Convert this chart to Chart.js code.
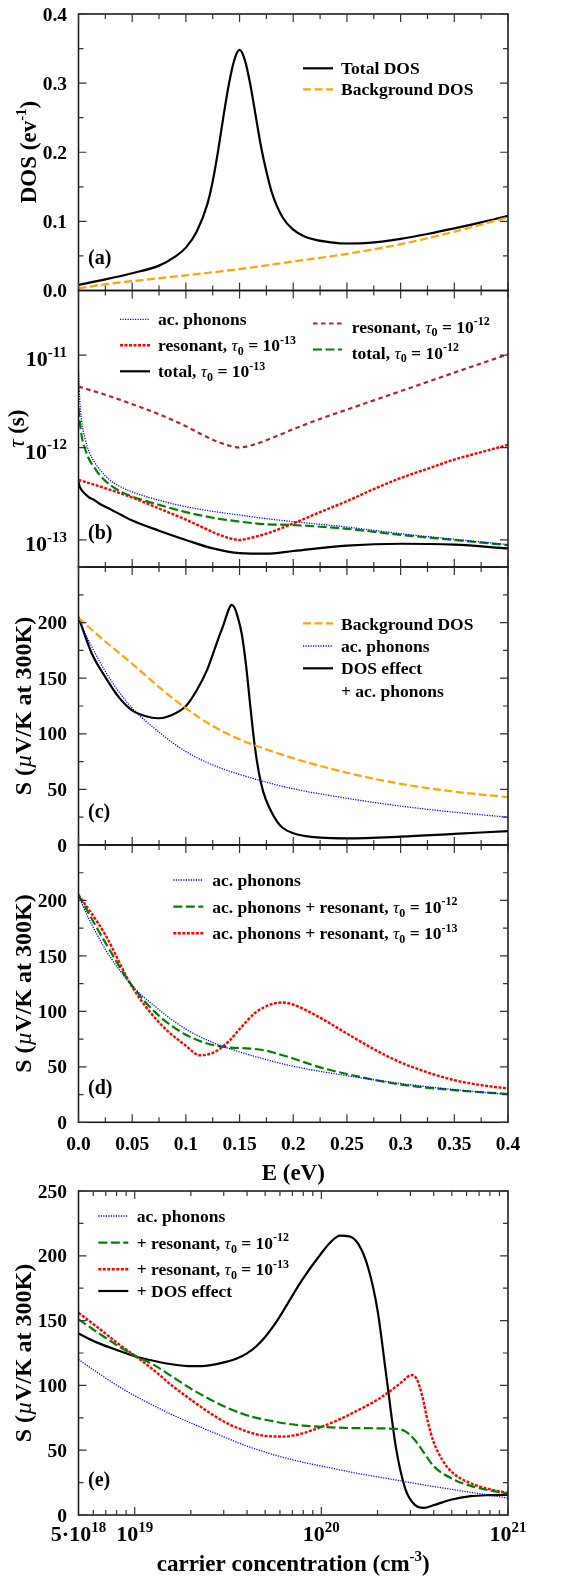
<!DOCTYPE html>
<html><head><meta charset="utf-8">
<script src="https://cdn.jsdelivr.net/npm/chart.js@4.4.1/dist/chart.umd.min.js"></script>
<style>
html,body{margin:0;padding:0;background:#fff;}
#wrap{position:relative;width:562px;height:1580px;}
canvas{position:absolute;left:0;top:0;}
</style></head><body><div id="wrap">
<canvas id="pa" width="562" height="1580"></canvas>
<canvas id="pb" width="562" height="1580"></canvas>
<canvas id="pc" width="562" height="1580"></canvas>
<canvas id="pd" width="562" height="1580"></canvas>
<canvas id="pe" width="562" height="1580"></canvas>
</div>
<script>
// ---------------- DATA ----------------
// (a) density of states vs E (eV)
const aTotalE = [0, 0.025, 0.05, 0.075, 0.09, 0.1, 0.11, 0.12, 0.125, 0.13, 0.135, 0.14, 0.145, 0.15, 0.155, 0.16, 0.165, 0.17, 0.175, 0.18, 0.19, 0.2, 0.21, 0.22, 0.235, 0.25, 0.27, 0.3, 0.325, 0.35, 0.375, 0.4];
const aTotalDOS = [0.008, 0.016, 0.025, 0.036, 0.049, 0.062, 0.085, 0.125, 0.158, 0.202, 0.252, 0.298, 0.333, 0.348, 0.333, 0.298, 0.253, 0.208, 0.172, 0.142, 0.106, 0.088, 0.0785, 0.0735, 0.0697, 0.068, 0.0688, 0.0748, 0.0818, 0.0898, 0.0985, 0.108];
const aBgE = [0, 0.025, 0.05, 0.1, 0.15, 0.2, 0.25, 0.3, 0.35, 0.4];
const aBgDOS = [0.003, 0.009, 0.0135, 0.022, 0.031, 0.042, 0.053, 0.067, 0.085, 0.106];

// (b) relaxation times (s)
const bE = [0, 0.001, 0.003, 0.006, 0.01, 0.015, 0.02, 0.03, 0.04, 0.05, 0.075, 0.1, 0.125, 0.15, 0.175, 0.2, 0.25, 0.3, 0.35, 0.4];
const bAcPhonons = [6.76e-12, 3.55e-12, 1.91e-12, 1.26e-12, 8.91e-13, 6.92e-13, 5.75e-13, 4.37e-13, 3.72e-13, 3.31e-13, 2.69e-13, 2.29e-13, 2.04e-13, 1.86e-13, 1.70e-13, 1.58e-13, 1.38e-13, 1.17e-13, 1.02e-13, 8.9e-14];
const bTotal12 = [2.69e-12, 2.0e-12, 1.32e-12, 9.77e-13, 7.41e-13, 6.03e-13, 5.01e-13, 3.89e-13, 3.31e-13, 2.95e-13, 2.40e-13, 2.0e-13, 1.74e-13, 1.58e-13, 1.48e-13, 1.45e-13, 1.32e-13, 1.135e-13, 1.0e-13, 8.8e-14];
const bTotal13 = [4.27e-13, 3.80e-13, 3.47e-13, 3.16e-13, 2.88e-13, 2.69e-13, 2.45e-13, 2.14e-13, 1.86e-13, 1.62e-13, 1.26e-13, 1.0e-13, 8.1e-14, 7.2e-14, 7.1e-14, 7.6e-14, 8.7e-14, 9.1e-14, 8.9e-14, 8.1e-14];
const bResE = [0, 0.025, 0.05, 0.075, 0.1, 0.115, 0.13, 0.14, 0.15, 0.16, 0.175, 0.2, 0.225, 0.25, 0.275, 0.3, 0.325, 0.35, 0.375, 0.4];
const bRes12 = [4.57e-12, 3.72e-12, 2.95e-12, 2.29e-12, 1.70e-12, 1.38e-12, 1.15e-12, 1.05e-12, 1.0e-12, 1.05e-12, 1.20e-12, 1.58e-12, 2.04e-12, 2.57e-12, 3.24e-12, 4.07e-12, 5.13e-12, 6.46e-12, 8.13e-12, 1.02e-11];
const bRes13 = [4.47e-13, 3.63e-13, 2.88e-13, 2.19e-13, 1.66e-13, 1.38e-13, 1.15e-13, 1.05e-13, 1.0e-13, 1.05e-13, 1.17e-13, 1.51e-13, 2.0e-13, 2.63e-13, 3.55e-13, 4.68e-13, 5.89e-13, 7.41e-13, 8.91e-13, 1.07e-12];

// (c),(d) Seebeck coefficient vs E (uV/K)
const acE = [0, 0.005, 0.0125, 0.025, 0.0375, 0.05, 0.075, 0.1, 0.125, 0.15, 0.175, 0.2, 0.25, 0.3, 0.35, 0.4];
const acS = [205, 193, 178, 156, 138, 123, 101.5, 84, 72, 63.5, 56.5, 50.5, 42, 35, 29.5, 25];
const cBgE = [0, 0.025, 0.05, 0.075, 0.1, 0.125, 0.15, 0.175, 0.2, 0.25, 0.3, 0.35, 0.4];
const cBgS = [204, 183, 163, 142, 123, 107, 95, 86, 78, 65, 55, 48, 43];
const cDosE = [0, 0.0125, 0.025, 0.0375, 0.05, 0.062, 0.074, 0.086, 0.1, 0.11, 0.12, 0.13, 0.135, 0.14, 0.1425, 0.145, 0.148, 0.152, 0.156, 0.16, 0.164, 0.168, 0.172, 0.178, 0.185, 0.19, 0.2, 0.21, 0.225, 0.25, 0.3, 0.35, 0.4];
const cDosS = [205, 172, 151, 133, 121, 116, 114, 116.5, 125, 139, 158, 185, 198, 212, 216, 214, 206, 190, 162, 125, 90, 65, 48, 33, 21, 15.5, 10.5, 8.2, 6.6, 6, 7.5, 10, 12.5];
const dRes12E = [0, 0.025, 0.05, 0.075, 0.1, 0.12, 0.14, 0.16, 0.175, 0.19, 0.2, 0.225, 0.25, 0.3, 0.35, 0.4];
const dRes12S = [205, 162, 123, 96, 79, 71, 67.5, 66.5, 64.5, 60.5, 57.5, 49.5, 43.5, 34, 29, 25.5];
const dRes13E = [0, 0.025, 0.05, 0.075, 0.1, 0.113, 0.125, 0.14, 0.15, 0.165, 0.18, 0.19, 0.2, 0.22, 0.25, 0.275, 0.3, 0.325, 0.35, 0.375, 0.4];
const dRes13S = [205, 169, 122, 90, 69, 60.5, 62.5, 73, 84, 99, 106.5, 108, 106, 97, 80, 66, 54, 45, 38, 33.5, 30.5];

// (e) Seebeck coefficient vs carrier concentration (cm^-3)
const eAcN = [5e18, 6.31e18, 7.94e18, 1e19, 1.26e19, 1.58e19, 2e19, 2.51e19, 3.16e19, 3.98e19, 5.01e19, 6.31e19, 7.94e19, 1e20, 1.58e20, 2.51e20, 3.98e20, 6.31e20, 1e21];
const eAcS = [120, 110, 100.5, 92, 84.5, 77.5, 71, 65, 59, 53.2, 48.5, 44.3, 40.8, 37.8, 32, 27, 22, 17.5, 13];
const eRes12N = [5e18, 6.31e18, 7.94e18, 1e19, 1.26e19, 1.58e19, 2e19, 2.51e19, 3.16e19, 3.98e19, 5.01e19, 6.31e19, 7.94e19, 1e20, 1.58e20, 2.51e20, 2.82e20, 3.16e20, 3.55e20, 3.98e20, 5.01e20, 6.31e20, 7.94e20, 1e21];
const eRes12S = [151, 141, 131.5, 123, 116, 107, 97.5, 89.5, 82.5, 77, 73.5, 70.8, 69, 68, 67, 66.5, 64.5, 58, 48, 38, 28, 22.5, 19, 16.5];
const eRes13N = [5e18, 6.31e18, 7.94e18, 1e19, 1.26e19, 1.58e19, 2e19, 2.51e19, 3.16e19, 3.98e19, 5.01e19, 6.31e19, 7.94e19, 1e20, 1.26e20, 1.58e20, 2e20, 2.51e20, 2.82e20, 3.02e20, 3.24e20, 3.47e20, 3.72e20, 3.98e20, 4.47e20, 5.01e20, 6.31e20, 7.94e20, 1e21];
const eRes13S = [156, 145, 133.5, 123, 112, 100, 89, 79, 70.5, 64.5, 61, 60.5, 63, 68, 74, 81, 89, 99, 105, 108, 105, 92, 72, 57, 42, 33, 24.5, 20, 17];
const eDosN = [5e18, 6.31e18, 7.94e18, 1e19, 1.26e19, 1.58e19, 2e19, 2.51e19, 3.16e19, 3.55e19, 3.98e19, 4.47e19, 5.01e19, 5.62e19, 6.31e19, 7.94e19, 1e20, 1.12e20, 1.26e20, 1.41e20, 1.58e20, 1.78e20, 2e20, 2.24e20, 2.51e20, 2.82e20, 3.16e20, 3.55e20, 3.98e20, 5.01e20, 6.31e20, 7.94e20, 1e21];
const eDosS = [140, 133, 127.5, 122.5, 119, 116.3, 114.8, 115.5, 118.5, 121, 124.5, 130, 137.5, 147, 158.5, 182, 202, 210.5, 215.5, 215, 209, 191, 158, 105, 52, 20, 8, 5.5, 7.5, 12, 14.5, 15.3, 15.5];

// ticks
const eXMajor = [0, 0.05, 0.1, 0.15, 0.2, 0.25, 0.3, 0.35, 0.4];
const eXMinor = [0.025, 0.075, 0.125, 0.175, 0.225, 0.275, 0.325, 0.375];
const eXLabels = ['0.0', '0.05', '0.1', '0.15', '0.2', '0.25', '0.3', '0.35', '0.4'];
const aYMajor = [0, 0.1, 0.2, 0.3, 0.4];
const aYMinor = [0.05, 0.15, 0.25, 0.35];
const aYLabels = ['0.0', '0.1', '0.2', '0.3', '0.4'];
const bYMajor = [1e-11, 1e-12, 1e-13];
const bYExp = ['-11', '-12', '-13'];
const sYMajor = [0, 50, 100, 150, 200, 250];
const sYMinor = [25, 75, 125, 175, 225];
const cdYLabelVals = [0, 50, 100, 150, 200];
const eYLabelVals = [0, 50, 100, 150, 200, 250];
const nMajor = [1e19, 1e20, 1e21];
const nMinor = [6e18, 7e18, 8e18, 9e18, 2e19, 3e19, 4e19, 5e19, 6e19, 7e19, 8e19, 9e19, 2e20, 3e20, 4e20, 5e20, 6e20, 7e20, 8e20, 9e20];
const nLabelVals = [5e18, 1e19, 1e20, 1e21];
const nLabelBase = ['5\u00b710', '10', '10', '10'];
const nLabelExp = ['18', '19', '20', '21'];

// ---------------- STYLE / HELPERS ----------------
const SERIF = '"Liberation Serif","Times New Roman",serif';
const W = 562, H = 1580, LEFT = 78.5, RPAD = 54;
const TICKC = '#333', MAJ = 8, MINL = 5;
const TK = 19.5, LG = 17.5;
const ST = {
  black: {borderColor: '#000000', borderWidth: 2.2, borderDash: []},
  orange: {borderColor: '#FFA500', borderWidth: 2.2, borderDash: [8, 3.5]},
  blue: {borderColor: '#0000FF', borderWidth: 1.3, borderDash: [1.2, 1.3]},
  red: {borderColor: '#FF0000', borderWidth: 2.4, borderDash: [3, 1.5]},
  brown: {borderColor: '#A52A2A', borderWidth: 2.2, borderDash: [4.5, 3.5]},
  green: {borderColor: '#008000', borderWidth: 2.2, borderDash: [9, 3.5]}
};
function ds(xs, ys, st) {
  return Object.assign({data: xs.map((x, i) => ({x: x, y: ys[i]})), showLine: true, pointRadius: 0,
    cubicInterpolationMode: 'monotone', fill: false}, st);
}
function segM(g, sz) {
  const k = g[1] || 'n'; let s = sz, dy = 0, it = false;
  if (k === 'sup') { s = Math.round(sz * 0.66); dy = -sz * 0.42; }
  else if (k === 'sub') { s = Math.round(sz * 0.66); dy = sz * 0.22; }
  else if (k === 'i') { it = true; }
  return {dy: dy, f: (it ? 'italic ' : 'bold ') + s + 'px ' + SERIF};
}
function richW(ctx, segs, sz) { let w = 0; for (const g of segs) { ctx.font = segM(g, sz).f; w += ctx.measureText(g[0]).width; } return w; }
function rich(ctx, segs, x, y, sz, align) {
  const w = richW(ctx, segs, sz);
  let cx = align === 'right' ? x - w : (align === 'center' ? x - w / 2 : x);
  ctx.textBaseline = 'alphabetic'; ctx.textAlign = 'left'; ctx.fillStyle = '#000';
  for (const g of segs) { const m = segM(g, sz); ctx.font = m.f; ctx.fillText(g[0], cx, y + m.dy); cx += ctx.measureText(g[0]).width; }
}
function richRot(ctx, segs, bx, cy, sz) {
  ctx.save(); ctx.translate(bx, cy); ctx.rotate(-Math.PI / 2); rich(ctx, segs, 0, 0, sz, 'center'); ctx.restore();
}
function frame(c) {
  const ctx = c.ctx, a = c.chartArea; ctx.save(); ctx.setLineDash([]); ctx.strokeStyle = '#111'; ctx.lineWidth = 1.5;
  ctx.strokeRect(a.left, a.top, a.right - a.left, a.bottom - a.top); ctx.restore();
}
function ticksX(c, maj, min) {
  const ctx = c.ctx, a = c.chartArea, sx = c.scales.x; ctx.save(); ctx.setLineDash([]); ctx.strokeStyle = TICKC; ctx.lineWidth = 1.2; ctx.beginPath();
  for (const [vals, len] of [[maj, MAJ], [min, MINL]]) for (const v of vals) {
    const p = sx.getPixelForValue(v); ctx.moveTo(p, a.bottom); ctx.lineTo(p, a.bottom - len); ctx.moveTo(p, a.top); ctx.lineTo(p, a.top + len);
  }
  ctx.stroke(); ctx.restore();
}
function ticksY(c, maj, min) {
  const ctx = c.ctx, a = c.chartArea, sy = c.scales.y; ctx.save(); ctx.setLineDash([]); ctx.strokeStyle = TICKC; ctx.lineWidth = 1.2; ctx.beginPath();
  for (const [vals, len] of [[maj, MAJ], [min, MINL]]) for (const v of vals) {
    const p = sy.getPixelForValue(v); ctx.moveTo(a.left, p); ctx.lineTo(a.left + len, p); ctx.moveTo(a.right, p); ctx.lineTo(a.right - len, p);
  }
  ctx.stroke(); ctx.restore();
}
function yLabels(c, vals, texts, sz) {
  const ctx = c.ctx, sy = c.scales.y;
  vals.forEach((v, i) => rich(ctx, [[texts[i], 'n']], 67, sy.getPixelForValue(v) + sz * 0.34, sz, 'right'));
}
function legend(c, x1, x2, xt, rows, sz) {
  const ctx = c.ctx;
  for (const r of rows) {
    if (r.st) {
      ctx.save(); ctx.strokeStyle = r.st.borderColor; ctx.lineWidth = r.st.borderWidth; ctx.setLineDash(r.st.borderDash);
      ctx.beginPath(); ctx.moveTo(x1, r.ly); ctx.lineTo(x2, r.ly); ctx.stroke(); ctx.restore();
    }
    rich(ctx, r.segs, xt, r.ty, sz, 'left');
  }
}
function tauSegs(pre, exp) { return [[pre, 'n'], ['\u03c4', 'i'], ['0', 'sub'], [' = 10', 'n'], [exp, 'sup']]; }
const S_TITLE = [['S (', 'n'], ['\u00b5', 'i'], ['V/K at 300K)', 'n']];

function makeChart(id, top, bottom, xs, ys, datasets, deco) {
  return new Chart(document.getElementById(id), {
    type: 'scatter', data: {datasets: datasets},
    options: {responsive: false, animation: false, devicePixelRatio: 1, events: [],
      layout: {padding: {left: LEFT, right: RPAD, top: top, bottom: H - bottom}},
      plugins: {legend: {display: false}, tooltip: {enabled: false}},
      scales: {x: Object.assign({display: false}, xs), y: Object.assign({display: false}, ys)}},
    plugins: [{id: 'deco_' + id, afterDraw(c) { deco(c); }}]
  });
}
const EX = {type: 'linear', min: 0, max: 0.4};

// (a)
makeChart('pa', 14, 290.5, EX, {type: 'linear', min: 0, max: 0.4}, [
  ds(aBgE, aBgDOS, ST.orange), ds(aTotalE, aTotalDOS, ST.black)
], c => {
  const ctx = c.ctx; frame(c); ticksX(c, eXMajor, eXMinor); ticksY(c, aYMajor, aYMinor);
  yLabels(c, aYMajor, aYLabels, TK);
  richRot(ctx, [['DOS (ev', 'n'], ['-1', 'sup'], [')', 'n']], 36, 152, 23);
  legend(c, 303, 333, 341, [
    {st: ST.black, ly: 68.3, ty: 74.3, segs: [['Total DOS', 'n']]},
    {st: ST.orange, ly: 89.3, ty: 95.3, segs: [['Background DOS', 'n']]}], LG);
  rich(ctx, [['(a)', 'n']], 88, 264, 20, 'left');
});

// (b)
makeChart('pb', 290.5, 567, EX, {type: 'logarithmic', min: 5.1e-14, max: 5.0e-11}, [
  ds(bResE, bRes12, ST.brown), ds(bE, bAcPhonons, ST.blue), ds(bE, bTotal12, ST.green),
  ds(bResE, bRes13, ST.red), ds(bE, bTotal13, ST.black)
], c => {
  const ctx = c.ctx, sy = c.scales.y; frame(c); ticksX(c, eXMajor, eXMinor); ticksY(c, bYMajor, []);
  bYMajor.forEach((v, i) => rich(ctx, [['10', 'n'], [bYExp[i], 'sup']], 67, sy.getPixelForValue(v) + 11, 22, 'right'));
  richRot(ctx, [['\u03c4', 'i'], [' (s)', 'n']], 24, 428.7, 23);
  legend(c, 120, 150, 158, [
    {st: ST.blue, ly: 319.3, ty: 325.3, segs: [['ac. phonons', 'n']]},
    {st: ST.red, ly: 345.3, ty: 351.3, segs: tauSegs('resonant, ', '-13')},
    {st: ST.black, ly: 371.3, ty: 377.3, segs: tauSegs('total, ', '-13')}], LG);
  legend(c, 313, 342, 351.7, [
    {st: ST.brown, ly: 323.5, ty: 332.5, segs: tauSegs('resonant, ', '-12')},
    {st: ST.green, ly: 349.5, ty: 358.5, segs: tauSegs('total, ', '-12')}], LG);
  rich(ctx, [['(b)', 'n']], 88, 539, 20, 'left');
});

// (c)
makeChart('pc', 567, 845, EX, {type: 'linear', min: 0, max: 250}, [
  ds(cBgE, cBgS, ST.orange), ds(acE, acS, ST.blue), ds(cDosE, cDosS, ST.black)
], c => {
  const ctx = c.ctx; frame(c); ticksX(c, eXMajor, eXMinor); ticksY(c, sYMajor, sYMinor);
  yLabels(c, cdYLabelVals, cdYLabelVals.map(String), TK);
  richRot(ctx, S_TITLE, 31, 706, 24);
  legend(c, 303, 333, 341, [
    {st: ST.orange, ly: 623.3, ty: 630, segs: [['Background DOS', 'n']]},
    {st: ST.blue, ly: 646, ty: 652, segs: [['ac. phonons', 'n']]},
    {st: ST.black, ly: 668.3, ty: 674.3, segs: [['DOS effect', 'n']]},
    {st: null, ly: 0, ty: 697, segs: [['+ ac. phonons', 'n']]}], LG);
  rich(ctx, [['(c)', 'n']], 88, 818, 20, 'left');
});

// (d)
makeChart('pd', 845, 1122.3, EX, {type: 'linear', min: 0, max: 250}, [
  ds(acE, acS, ST.blue), ds(dRes12E, dRes12S, ST.green), ds(dRes13E, dRes13S, ST.red)
], c => {
  const ctx = c.ctx, sx = c.scales.x; frame(c); ticksX(c, eXMajor, eXMinor); ticksY(c, sYMajor, sYMinor);
  yLabels(c, cdYLabelVals, cdYLabelVals.map(String), TK);
  richRot(ctx, S_TITLE, 31, 983.6, 24);
  eXMajor.forEach((v, i) => rich(ctx, [[eXLabels[i], 'n']], sx.getPixelForValue(v), 1149.5, TK, 'center'));
  rich(ctx, [['E (eV)', 'n']], (c.chartArea.left + c.chartArea.right) / 2, 1179.5, 23, 'center');
  legend(c, 173.3, 203.3, 212.3, [
    {st: ST.blue, ly: 880, ty: 886, segs: [['ac. phonons', 'n']]},
    {st: ST.green, ly: 906.7, ty: 912.7, segs: tauSegs('ac. phonons + resonant, ', '-12')},
    {st: ST.red, ly: 933.3, ty: 939.3, segs: tauSegs('ac. phonons + resonant, ', '-13')}], LG);
  rich(ctx, [['(d)', 'n']], 88, 1094, 20, 'left');
});

// (e)
makeChart('pe', 1191, 1515, {type: 'logarithmic', min: 5e18, max: 1e21}, {type: 'linear', min: 0, max: 250}, [
  ds(eAcN, eAcS, ST.blue), ds(eRes12N, eRes12S, ST.green), ds(eRes13N, eRes13S, ST.red), ds(eDosN, eDosS, ST.black)
], c => {
  const ctx = c.ctx, sx = c.scales.x; frame(c); ticksX(c, nMajor, nMinor); ticksY(c, sYMajor, sYMinor);
  yLabels(c, eYLabelVals, eYLabelVals.map(String), TK);
  richRot(ctx, S_TITLE, 31, 1353, 24);
  nLabelVals.forEach((v, i) => rich(ctx, [[nLabelBase[i], 'n'], [nLabelExp[i], 'sup']], sx.getPixelForValue(v), 1541, 22, 'center'));
  rich(ctx, [['carrier concentration (cm', 'n'], ['-3', 'sup'], [')', 'n']], (c.chartArea.left + c.chartArea.right) / 2, 1571, 23, 'center');
  legend(c, 98.3, 128.3, 136.7, [
    {st: ST.blue, ly: 1216, ty: 1222, segs: [['ac. phonons', 'n']]},
    {st: ST.green, ly: 1242.7, ty: 1248.7, segs: tauSegs('+ resonant, ', '-12')},
    {st: ST.red, ly: 1269.3, ty: 1275.3, segs: tauSegs('+ resonant, ', '-13')},
    {st: ST.black, ly: 1291, ty: 1297, segs: [['+ DOS effect', 'n']]}], LG);
  rich(ctx, [['(e)', 'n']], 88, 1486, 20, 'left');
});
</script>
</body></html>
